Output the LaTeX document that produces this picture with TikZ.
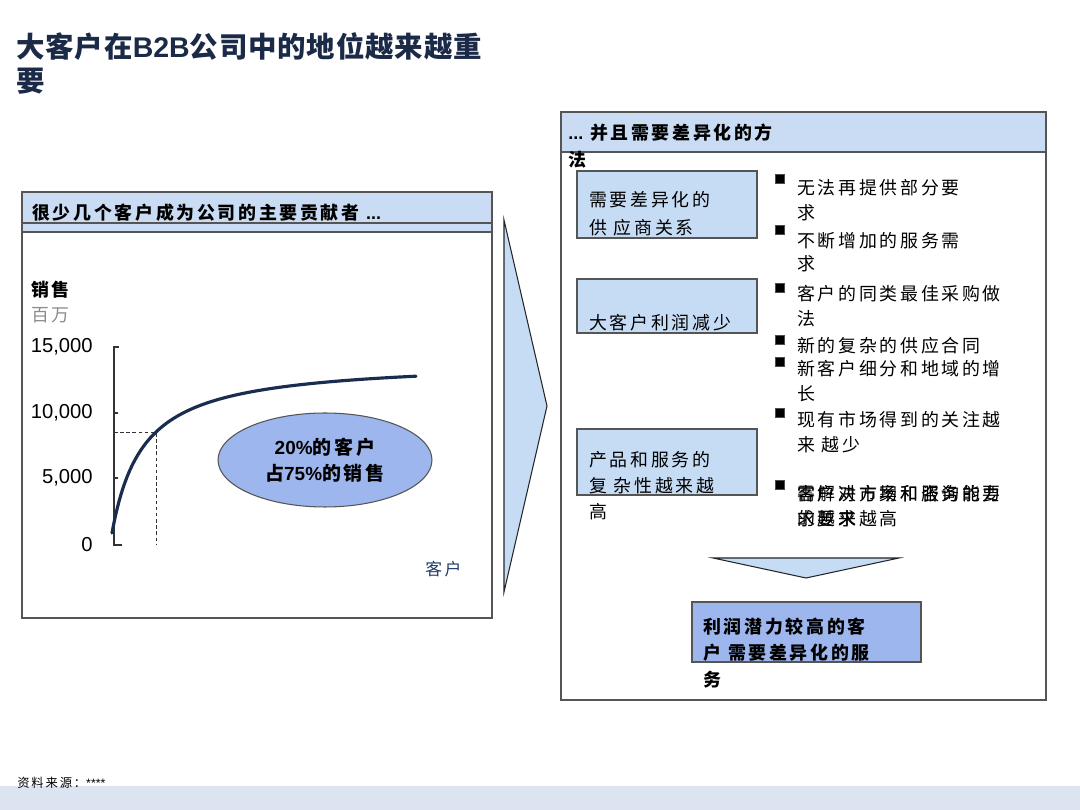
\documentclass[tikz,border=0pt]{standalone}
\usepackage{fontspec}
\setmainfont{Liberation Sans}
\newfontfamily\cjk[LetterSpace=15]{Noto Sans CJK SC}
\newfontfamily\cjktitle[LetterSpace=3]{Noto Sans CJK SC}
\usetikzlibrary{shapes.geometric}
\definecolor{hdrblue}{HTML}{C9DCF3}
\definecolor{lightbox}{HTML}{C6DCF5}
\definecolor{midblue}{HTML}{9DB6EE}
\definecolor{navy}{HTML}{1B2A47}
\definecolor{curvec}{HTML}{1B2D4F}
\definecolor{bordc}{HTML}{555555}
\definecolor{footband}{HTML}{DCE3F1}
\definecolor{axislab}{HTML}{1F3A6B}
\newcommand\dotsB{{\fontspec{Liberation Sans}\bfseries ...}}
\begin{document}
\begin{tikzpicture}[x=0.02cm,y=-0.02cm,
  panel/.style={draw=bordc,line width=0.8pt},
  txt/.style={anchor=west,inner sep=0pt,font=\cjk\fontsize{10.2}{12}\selectfont},
  btxt/.style={anchor=west,inner sep=0pt,font=\cjk\bfseries\fontsize{10.2}{12}\selectfont},
  ticklab/.style={anchor=east,inner sep=0pt,font=\fontsize{11.5}{13}\selectfont},
  bullet/.style={fill=black,draw=black!70,line width=0.4pt},
  lbox/.style={draw=bordc,line width=0.8pt,fill=lightbox}]
\useasboundingbox (0,0) rectangle (1080,810);
\fill[white] (0,0) rectangle (1080,810);
% footer band
\fill[footband] (0,786) rectangle (1080,810);
\node[anchor=west,inner sep=0pt,font=\cjk\fontsize{7}{8}\selectfont] (src) at (17,783) {资料来源：\fontspec{Liberation Sans}****};
% title
\node[anchor=west,inner sep=0pt,text=navy,font=\cjktitle\bfseries\fontsize{16.2}{18}\selectfont] (title1) at (16,47) {大客户在{\fontspec{Liberation Sans}\bfseries B2B}公司中的地位越来越重};
\node[anchor=west,inner sep=0pt,text=navy,font=\cjktitle\bfseries\fontsize{16.2}{18}\selectfont] (title2) at (16,81) {要};

% ---------------- left panel
\fill[hdrblue] (22,192) rectangle (492,232);
\draw[panel] (22,223) -- (492,223);
\draw[panel] (22,232) -- (492,232);
\draw[panel] (22,192) rectangle (492,618);
\node[btxt] (lefthdr) at (32,213) {很少几个客户成为公司的主要贡献者 \dotsB};

\node[btxt] (ylab) at (31,290) {销售};
\node[txt,text=black!45] (yunit) at (31,315) {百万};
\node[ticklab] (t15) at (93,347) {15,000};
\node[ticklab] (t10) at (93,413) {10,000};
\node[ticklab] (t5) at (93,478) {5,000};
\node[ticklab] (t0) at (93,545) {0};
\draw[black!80,line width=0.6pt] (119,347) -- (114,347) -- (114,545) -- (122,545);
\draw[black!80,line width=0.6pt] (114,413) -- (118,413);
\draw[black!80,line width=0.6pt] (114,478) -- (118,478);
\draw[black!80,line width=0.5pt,dash pattern=on 2pt off 1.5pt] (114,432) -- (156,432) -- (156,545);
\draw[curvec,line width=1.8pt,line cap=round] plot[domain=112:416,samples=120,smooth] (\x,{360+173*31.4/(\x-112+31.4)});
\node[ellipse,draw=bordc,line width=0.6pt,fill=midblue,minimum width=4.28cm,minimum height=1.88cm,inner sep=0pt,align=center,font=\fontsize{10.8}{14.8}\selectfont] (oval) at (325,460)
  {{\bfseries 20\%}{\cjk\bfseries 的客户}\\{\cjk\bfseries 占}{\bfseries 75\%}{\cjk\bfseries 的销售}};
\node[txt,text=axislab,font=\cjk\fontsize{9.6}{12}\selectfont] (xlab) at (425,569) {客户};

% big right chevron
\draw[fill=lightbox,draw=black!85,line width=0.6pt] (504,220) -- (547,406) -- (504,592) -- cycle;

% ---------------- right panel
\fill[hdrblue] (561,112) rectangle (1046,152);
\draw[panel] (561,152) -- (1046,152);
\draw[panel] (561,112) rectangle (1046,700);
\node[btxt] (righthdr) at (568,133) {\dotsB\ 并且需要差异化的方};
\node[btxt] (righthdr2) at (568,160) {法};

% left-hand boxes
\draw[lbox] (577,171) rectangle (757,238);
\node[txt] (b1a) at (589,200) {需要差异化的};
\node[txt] (b1b) at (589,228) {供 应商关系};
\draw[lbox] (577,279) rectangle (757,333);
\node[txt] (b2a) at (589,323) {大客户利润减少};
\draw[lbox] (577,429) rectangle (757,495);
\node[txt] (b3a) at (589,460) {产品和服务的};
\node[txt] (b3b) at (589,486) {复 杂性越来越};
\node[txt] (b3c) at (589,512) {高};

% bullets
\fill[bullet] (775,174) rectangle (784,183);
\node[txt] (p1a) at (797,188) {无法再提供部分要};
\node[txt] (p1b) at (797,213) {求};
\fill[bullet] (775,225) rectangle (784,234);
\node[txt] (p2a) at (797,241) {不断增加的服务需};
\node[txt] (p2b) at (797,264) {求};
\fill[bullet] (775,283) rectangle (784,292);
\node[txt] (p3a) at (797,294) {客户的同类最佳采购做};
\node[txt] (p3b) at (797,319) {法};
\fill[bullet] (775,335) rectangle (784,344);
\node[txt] (p4a) at (797,346) {新的复杂的供应合同};
\fill[bullet] (775,357) rectangle (784,366);
\node[txt] (p5a) at (797,369) {新客户细分和地域的增};
\node[txt] (p5b) at (797,394) {长};
\fill[bullet] (775,408) rectangle (784,417);
\node[txt] (p6a) at (797,420) {现有市场得到的关注越};
\node[txt] (p6b) at (797,445) {来 越少};
\fill[bullet] (775,480) rectangle (784,489);
\node[txt] (p7a) at (797,494) {客户对市场和服务的要};
\node[txt] (p7b) at (797,519) {求越来越高};
\node[txt] (p7c) at (797,494) {需解决方案和咨询能力};
\node[txt] (p7d) at (797,519) {的要求};

% down chevron
\draw[fill=lightbox,draw=black!85,line width=0.6pt] (713,558) -- (899,558) -- (806,578) -- cycle;

% result box
\draw[draw=bordc,line width=0.8pt,fill=midblue] (692,602) rectangle (921,662);
\node[btxt] (r1) at (703,627) {利润潜力较高的客};
\node[btxt] (r2) at (703,653) {户 需要差异化的服};
\node[btxt] (r3) at (703,680) {务};
\end{tikzpicture}
\end{document}
